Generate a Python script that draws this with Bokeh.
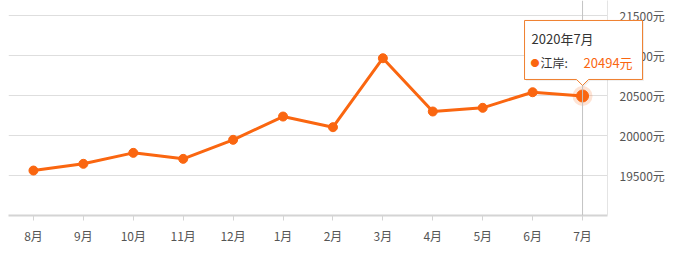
from bokeh.plotting import figure
from bokeh.models import (Range1d, FixedTicker, PrintfTickFormatter,
                          Span, PolyAnnotation, Label, GridBox, Column)
from bokeh.embed import file_html
from bokeh.resources import INLINE

months = ["8月", "9月", "10月", "11月", "12月", "1月", "2月", "3月", "4月", "5月", "6月", "7月"]
prices = [19562, 19646, 19783, 19708, 19946, 20237, 20104, 20966, 20300, 20346, 20541, 20494]
y_ticks = [19500, 20000, 20500, 21000, 21500]
series_name = "江岸"
tip_title = "2020年7月"

ORANGE = "#fa6610"
FONT = "Noto Sans CJK SC"

W, H = 681, 256
BL, BR, BT, BB = 8, 74, 0, 41
FW, FH = W - BL - BR, H - BT - BB

idx = list(range(len(months)))
x0, x1 = -0.5, len(months) - 0.5
y0, y1 = 19000, 19000 + FH * 12.5

p = figure(width=W, height=H, output_backend="svg", toolbar_location=None,
           x_range=Range1d(x0, x1), y_range=Range1d(y0, y1),
           min_border_left=BL, min_border_right=BR, min_border_top=BT, min_border_bottom=BB,
           y_axis_location="right")
p.outline_line_color = None
p.background_fill_color = "white"
p.border_fill_color = "white"

xa = p.xaxis[0]
xa.ticker = FixedTicker(ticks=idx)
xa.major_label_overrides = {i: m for i, m in zip(idx, months)}
xa.axis_line_color = "#d4d4d4"
xa.axis_line_width = 2
xa.major_tick_line_color = "#d4d4d4"
xa.major_tick_in = 0
xa.major_tick_out = 5
xa.minor_tick_line_color = None
xa.major_label_text_font = FONT
xa.major_label_text_font_size = "12px"
xa.major_label_text_color = "#555555"
xa.major_label_standoff = 6

ya = p.yaxis[0]
ya.ticker = FixedTicker(ticks=y_ticks)
ya.formatter = PrintfTickFormatter(format="%d元")
ya.axis_line_color = "#e4e4e4"
ya.major_tick_line_color = None
ya.minor_tick_line_color = None
ya.major_label_text_font = FONT
ya.major_label_text_font_size = "12px"
ya.major_label_text_color = "#555555"
ya.major_label_standoff = 6

p.xgrid.grid_line_color = None
p.ygrid.ticker = FixedTicker(ticks=y_ticks)
p.ygrid.grid_line_color = "#dedede"

p.add_layout(Span(location=idx[-1], dimension="height", line_color="#c4c4c4", line_width=1))

p.line(idx, prices, line_color=ORANGE, line_width=3)
p.scatter(idx[:-1], prices[:-1], size=9, fill_color=ORANGE, line_color=ORANGE)
p.scatter([idx[-1]], [prices[-1]], size=20, fill_color=ORANGE, fill_alpha=0.18, line_color=None)
p.scatter([idx[-1]], [prices[-1]], size=12, fill_color=ORANGE, line_color=ORANGE)

# transparent overlay figure covering the whole canvas, same data mapping
px = (x1 - x0) / FW
py = (y1 - y0) / FH
q = figure(width=W, height=H, output_backend="svg", toolbar_location=None,
           x_range=Range1d(x0 - BL * px, x1 + BR * px),
           y_range=Range1d(y0 - BB * py, y1 + BT * py),
           min_border_left=0, min_border_right=0, min_border_top=0, min_border_bottom=0,
           x_axis_type=None, y_axis_type=None)
q.grid.visible = False
q.outline_line_color = None
q.background_fill_alpha = 0
q.border_fill_alpha = 0

ax, ay = idx[-1], prices[-1]

def dx(o):
    return ax + o * px

def dy(o):
    return ay + o * py

L, R, T, B = -58, 60, 75.5, 16.5
tip_x = [L, R, R, 6, 0, -6, L]
tip_y = [T, T, B, B, B - 6, B, B]
q.add_layout(PolyAnnotation(xs=[dx(v + 1.5) for v in tip_x], ys=[dy(v - 1.5) for v in tip_y],
                            fill_color="black", fill_alpha=0.06, line_color=None))
q.add_layout(PolyAnnotation(xs=[dx(v) for v in tip_x], ys=[dy(v) for v in tip_y],
                            fill_color="white", fill_alpha=1, line_color="#ef7f2e",
                            line_alpha=1, line_width=1))

q.add_layout(Label(x=ax, y=ay, x_offset=-51, y_offset=57, text=tip_title,
                   text_font=FONT, text_font_size="13px", text_color="#333333",
                   text_baseline="middle"))
q.add_layout(Label(x=ax, y=ay, x_offset=-52, y_offset=33, text="●",
                   text_font=FONT, text_font_size="9px", text_color=ORANGE,
                   text_baseline="middle"))
q.add_layout(Label(x=ax, y=ay, x_offset=-42, y_offset=33, text=series_name + ":",
                   text_font=FONT, text_font_size="12px", text_color="#333333",
                   text_baseline="middle"))
q.add_layout(Label(x=ax, y=ay, x_offset=1, y_offset=33, text=f"{prices[-1]}元",
                   text_font=FONT, text_font_size="13px", text_color=ORANGE,
                   text_baseline="middle"))

layout = GridBox(children=[(Column(children=[p]), 0, 0), (Column(children=[q]), 0, 0)])
open("out.html", "w").write(file_html(layout, INLINE))
